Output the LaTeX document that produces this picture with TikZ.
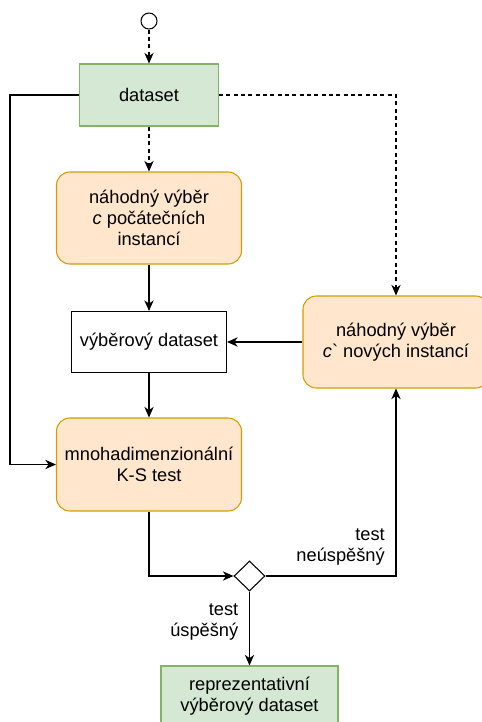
\documentclass[tikz,border=0pt]{standalone}
\usepackage{fontspec}
\setmainfont{Liberation Sans}
\usepackage{xcolor}
\usetikzlibrary{calc,positioning,arrows.meta,shapes}

\definecolor{dsgreen}{HTML}{D5E8D4}
\definecolor{dsgreenline}{HTML}{82B366}
\definecolor{selorange}{HTML}{FFE6CC}
\definecolor{selorangeline}{HTML}{D79B00}

\tikzset{
    txt/.style={font=\fontsize{13.7}{15.75}\selectfont, align=center, inner sep=2pt},
    databox/.style={txt, draw=dsgreenline, fill=dsgreen, line width=0.8pt},
    selbox/.style={txt, draw=selorangeline, fill=selorange, line width=0.8pt, rounded corners=10pt},
    plainbox/.style={txt, draw=black, line width=0.8pt},
    flow/.style={draw=black, line width=0.8pt, -{Stealth[length=8pt, width=7pt, inset=2.5pt]}},
    dflow/.style={flow, dash pattern=on 3pt off 2.5pt},
    lbl/.style={txt, align=right}
}

\begin{document}
\begin{tikzpicture}[x=0.75pt, y=-0.75pt]
        \useasboundingbox (0, 0) rectangle (482, 722);

        \node [circle, draw, line width=0.8pt, inner sep=0, minimum size=12pt] (start) at (149, 21) {};
        \node [databox, minimum width=104.25pt, minimum height=46.5pt] (data) at (149, 95) {dataset};
        \node [selbox, minimum width=138.75pt, minimum height=69pt] (pick1) at (149, 218) {náhodný výběr\\\textit{c} počátečních\\instancí}; % first sample
        \node [plainbox, minimum width=116.25pt, minimum height=45.75pt] (sample) at (149, 342) {výběrový dataset};
        \node [selbox, minimum width=139.5pt, minimum height=69pt] (pickn) at (396, 342) {náhodný výběr\\\textit{c}\textasciigrave{} nových instancí}; % further samples
        \node [selbox, minimum width=138.75pt, minimum height=69.75pt] (kstest) at (149, 464.5) {mnohadimenzionální\\K-S test};
        \node [diamond, draw, line width=0.8pt, inner sep=0, minimum width=23.25pt, minimum height=22.5pt] (gate) at (249.5, 576) {};
        \node [databox, minimum width=132.75pt, minimum height=45pt] (result) at (249.5, 696) {reprezentativní\\výběrový dataset};

        \draw [dflow] (start) -- (data);
        \draw [dflow] (data) -- (pick1);
        \draw [dflow] (data.east) -| (pickn.north);
        \draw [flow] (pick1) -- (sample);
        \draw [flow] (pickn.west) -- (sample.east);
        \draw [flow] (sample) -- (kstest);
        \draw [flow] (data.west) -- ++(-69, 0) |- (kstest.west); % back to the test
        \draw [flow] (kstest.south) |- (gate.west);
        \draw [flow] (gate.east) -| node [lbl, anchor=south east, xshift=-6pt, yshift=6pt] {test\\neúspěšný} (pickn.south);
        \draw [flow] (gate.south) -- node [lbl, pos=0, anchor=north east, xshift=-6pt, yshift=-7pt] {test\\úspěšný} (result.north);

    \end{tikzpicture}
\end{document}
